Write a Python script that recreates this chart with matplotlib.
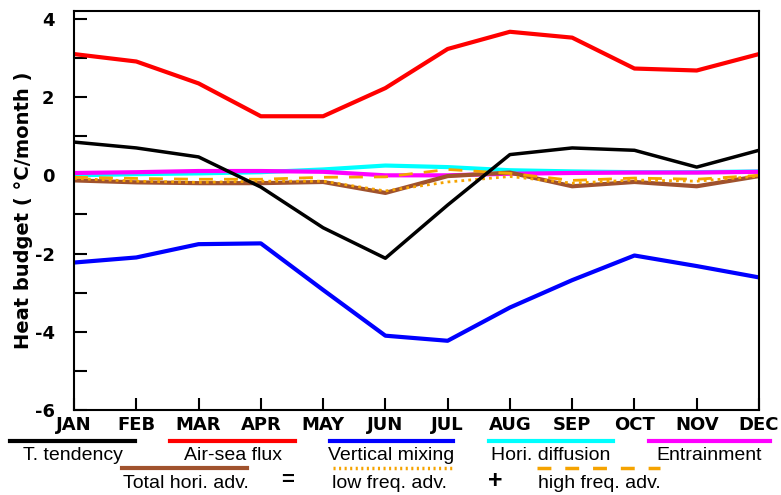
import numpy as np
import matplotlib.pyplot as plt
from matplotlib.lines import Line2D

months = ['JAN', 'FEB', 'MAR', 'APR', 'MAY', 'JUN', 'JUL', 'AUG', 'SEP', 'OCT', 'NOV', 'DEC']
t_tend = [0.85, 0.70, 0.47, -0.30, -1.34, -2.12, -0.76, 0.53, 0.70, 0.64, 0.21, 0.64]
airsea = [3.10, 2.91, 2.35, 1.51, 1.51, 2.23, 3.23, 3.67, 3.52, 2.73, 2.68, 3.10]
vmix = [-2.23, -2.10, -1.76, -1.74, -2.93, -4.10, -4.23, -3.38, -2.68, -2.05, -2.32, -2.61]
hdiff = [0.00, 0.03, 0.05, 0.08, 0.15, 0.25, 0.21, 0.13, 0.10, 0.08, 0.08, 0.10]
entr = [0.06, 0.08, 0.11, 0.11, 0.09, 0.00, 0.00, 0.04, 0.06, 0.07, 0.07, 0.09]
tot_adv = [-0.13, -0.18, -0.20, -0.20, -0.17, -0.45, -0.02, 0.07, -0.28, -0.17, -0.28, -0.02]
low_adv = [-0.08, -0.15, -0.18, -0.15, -0.15, -0.40, -0.17, -0.03, -0.20, -0.12, -0.15, -0.02]
high_adv = [-0.05, -0.08, -0.10, -0.10, -0.05, -0.04, 0.15, 0.05, -0.13, -0.07, -0.10, 0.00]

x = np.arange(len(months))
brown = '#a0522d'
orange = '#f5a300'

fig = plt.figure(figsize=(7.81, 4.95), dpi=100)
ax = fig.add_axes([0.0948, 0.1717, 0.877, 0.806])

ax.plot(x, airsea, color='red', lw=3)
ax.plot(x, vmix, color='blue', lw=3)
ax.plot(x, hdiff, color='cyan', lw=3)
ax.plot(x, entr, color='magenta', lw=3)
ax.plot(x, tot_adv, color=brown, lw=3)
ax.plot(x, low_adv, color=orange, lw=2, ls=(0, (1, 1.5)))
ax.plot(x, high_adv, color=orange, lw=2, ls=(0, (5, 4)))
ax.plot(x, t_tend, color='black', lw=2.5)

ax.set_xlim(0, 11)
ax.set_ylim(-6, 4.2)
ax.set_xticks(x)
ax.set_xticklabels(months, fontsize=13, fontweight='bold')
ax.set_yticks([-6, -4, -2, 0, 2, 4])
ax.set_yticklabels(['-6', '-4', '-2', '0', '2', '4'], fontsize=13, fontweight='bold')
ax.set_yticks([-5, -3, -1, 1, 3], minor=True)
ax.tick_params(axis='both', which='both', direction='in', length=9, width=1.5)
ax.tick_params(axis='x', pad=4, top=False)
ax.tick_params(axis='y', which='both', pad=14, right=False)
for s in ax.spines.values():
    s.set_linewidth(1.5)
ax.set_ylabel('Heat budget ( \u00b0C/month )', fontsize=14, fontweight='bold', labelpad=1)

# custom legend drawn below the axes
def seg(x0, x1, y, **kw):
    fig.add_artist(Line2D([x0 / 781, x1 / 781], [1 - y / 495, 1 - y / 495], **kw))

def txt(xc, y, s, size=14, **kw):
    fig.text(xc / 781, 1 - y / 495, s, ha='center', va='center', fontsize=size,
             family='Liberation Sans', **kw)

row1 = [(10, 135, 'black', 'T. tendency'), (170, 295, 'red', 'Air-sea flux'),
        (330, 453, 'blue', 'Vertical mixing'), (489, 613, 'cyan', 'Hori. diffusion'),
        (649, 770, 'magenta', 'Entrainment')]
for x0, x1, c, lab in row1:
    seg(x0, x1, 441, color=c, lw=3)
    txt((x0 + x1) / 2, 456, lab)

seg(122, 247, 468, color=brown, lw=3)
seg(333, 453, 468, color=orange, lw=2.5, ls=(0, (0.6, 1)))
seg(537, 660, 468, color=orange, lw=2.5, ls=(0, (4, 4)))
txt(186, 483, 'Total hori. adv.')
txt(288, 481, '=', size=16, fontweight='bold')
txt(390, 483, 'low freq. adv.')
txt(495, 481, '+', size=18, fontweight='bold')
txt(599, 483, 'high freq. adv.')

fig.savefig('out.png', dpi=100)
